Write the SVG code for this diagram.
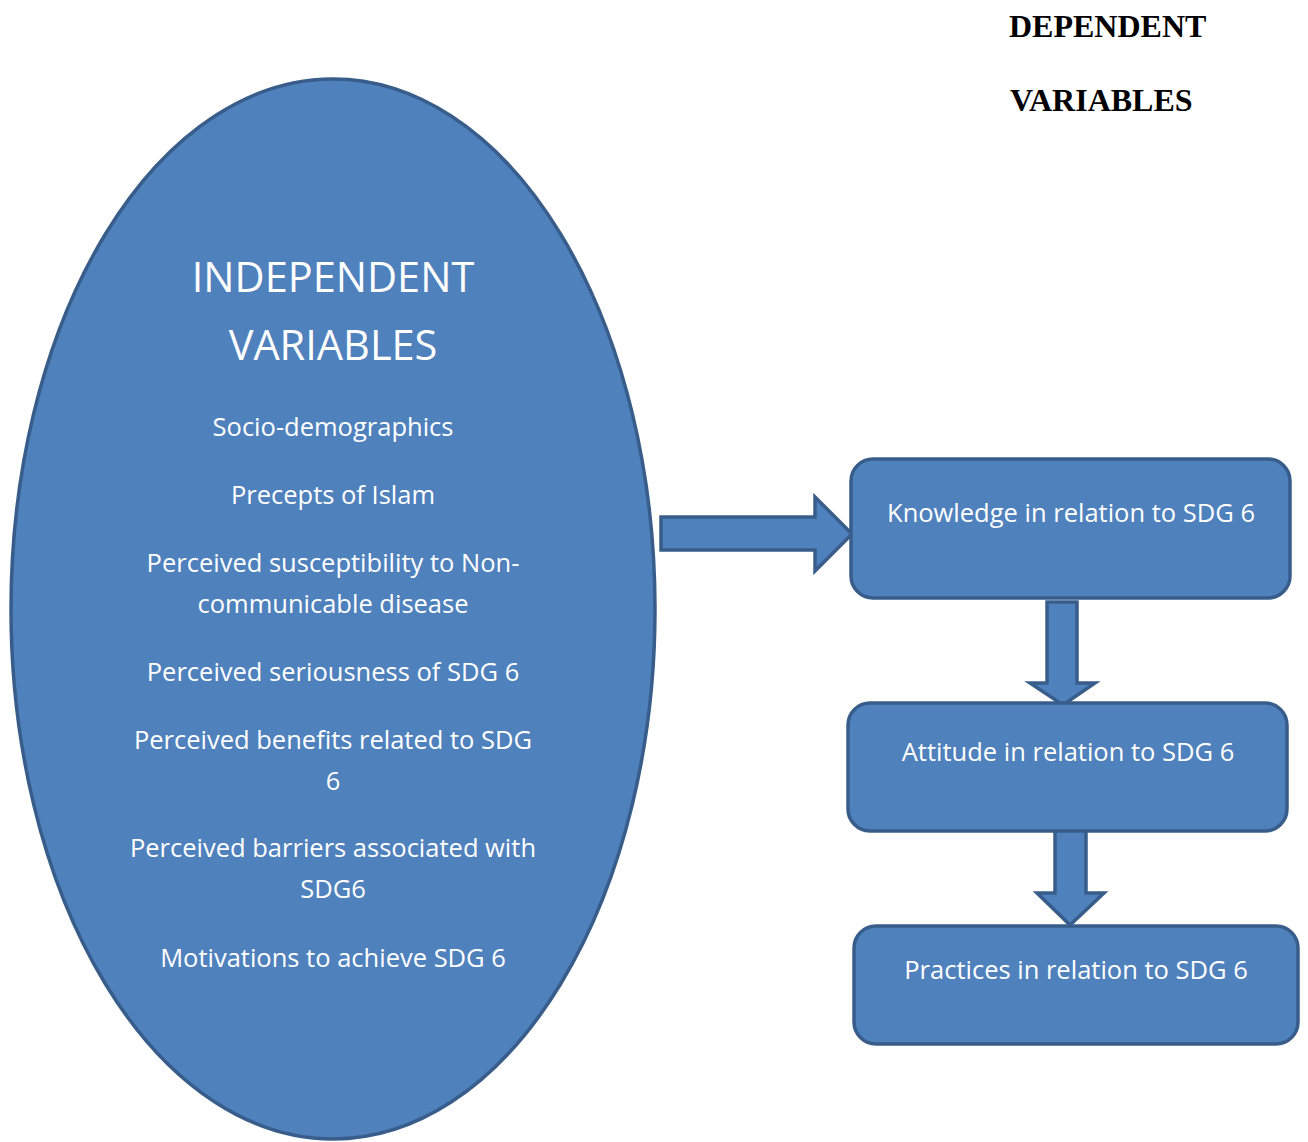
<svg xmlns="http://www.w3.org/2000/svg" width="1308" height="1142" viewBox="0 0 1308 1142">
<style>
.shape{fill:#4F81BD;stroke:#385D8A;stroke-width:3.5;stroke-linejoin:miter}
.t{font-family:"Open Sans","Liberation Sans",sans-serif;fill:#FFFFFF;text-anchor:middle;font-size:25.5px}
.big{font-size:41.5px}
.head{font-family:"Liberation Serif","Times New Roman",serif;font-weight:bold;font-size:32px;fill:#000000}
</style>
<rect width="1308" height="1142" fill="#FFFFFF"/>
<g id="dependent-title">
<text class="head" x="1009" y="37">DEPENDENT</text>
<text class="head" x="1010" y="111">VARIABLES</text>
</g>
<g id="independent">
<ellipse class="shape" cx="333" cy="609" rx="322" ry="530"/>
<text class="t big" x="333" y="292">INDEPENDENT</text>
<text class="t big" x="333" y="360">VARIABLES</text>
<text class="t" x="333" y="436">Socio-demographics</text>
<text class="t" x="333" y="504">Precepts of Islam</text>
<text class="t" x="333" y="572">Perceived susceptibility to Non-</text>
<text class="t" x="333" y="613">communicable disease</text>
<text class="t" x="333" y="681">Perceived seriousness of SDG 6</text>
<text class="t" x="333" y="749">Perceived benefits related to SDG</text>
<text class="t" x="333" y="790">6</text>
<text class="t" x="333" y="857">Perceived barriers associated with</text>
<text class="t" x="333" y="898">SDG6</text>
<text class="t" x="333" y="967">Motivations to achieve SDG 6</text>
</g>
<g id="connectors">
<polygon class="shape" points="661,517 815,517 815,497 852,534 815,571 815,550 661,550"/>
<polygon class="shape" points="1047,602 1077,602 1077,683 1095,683 1063,705 1030,683 1047,683"/>
<polygon class="shape" points="1055,828 1086,828 1086,893 1104,893 1070,925 1037,893 1055,893"/>
</g>
<g id="knowledge">
<rect class="shape" x="851" y="459" width="439" height="139" rx="22"/>
<text class="t" x="1071" y="522">Knowledge in relation to SDG 6</text>
</g>
<g id="attitude">
<rect class="shape" x="848" y="703" width="439" height="128" rx="22"/>
<text class="t" x="1068" y="761">Attitude in relation to SDG 6</text>
</g>
<g id="practices">
<rect class="shape" x="854" y="926" width="444" height="118" rx="22"/>
<text class="t" x="1076" y="979">Practices in relation to SDG 6</text>
</g>
</svg>
